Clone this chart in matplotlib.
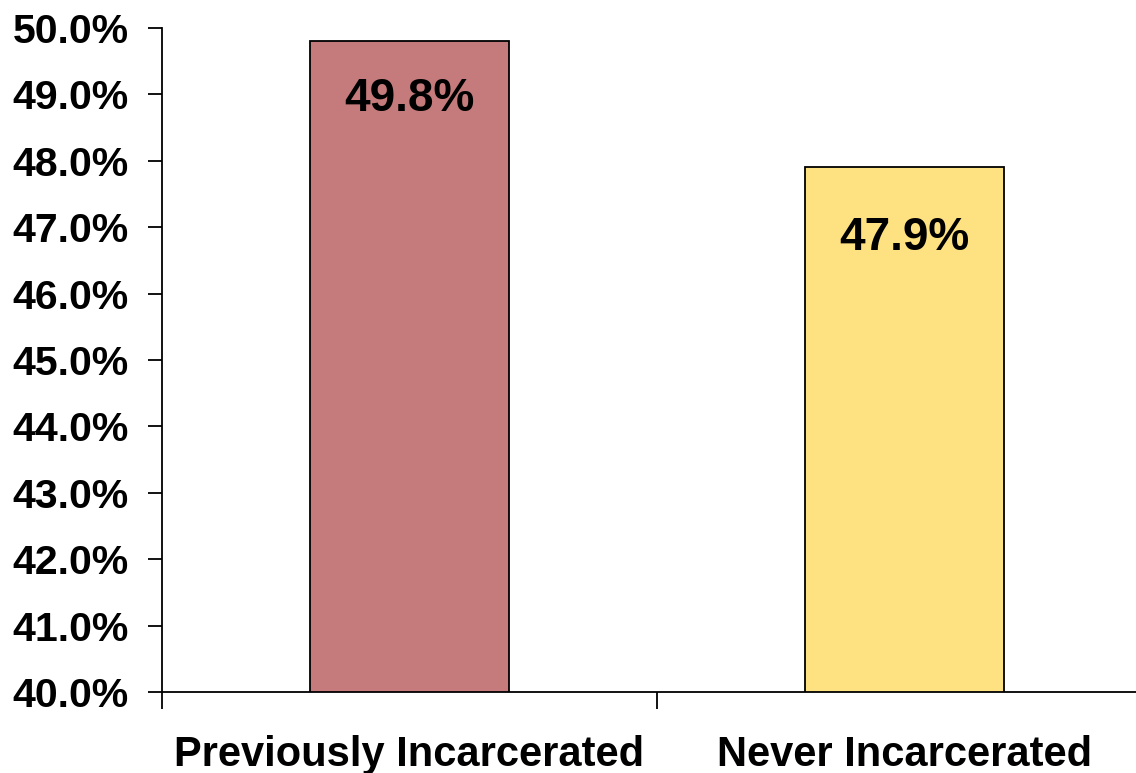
import matplotlib.pyplot as plt
from matplotlib.ticker import FixedLocator, FuncFormatter

categories = ["Previously Incarcerated", "Never Incarcerated"]
values = [49.8, 47.9]
bar_colors = ["#C57B7B", "#FEE180"]
label_offsets = [-58, -71]  # px below bar top for the value labels

plt.rcParams['font.family'] = ['Liberation Sans', 'DejaVu Sans']
plt.rcParams['font.weight'] = 'bold'

fig = plt.figure(figsize=(11.36, 7.73), dpi=100)
W, H = 1136, 773
left, right, top, bottom = 162, 1152, 28, 692
ax = fig.add_axes([left / W, 1 - bottom / H, (right - left) / W, (bottom - top) / H])

x = list(range(len(categories)))
bars = ax.bar(x, values, width=0.404, color=bar_colors, edgecolor="black", linewidth=1.3, zorder=2)

for xi, v, off in zip(x, values, label_offsets):
    ax.annotate(f"{v:.1f}%", (xi, v), xytext=(0, off * 0.72), textcoords="offset points",
                ha="center", va="center", fontsize=33, fontweight="bold")

ax.set_ylim(40, 50)
ax.set_xlim(-0.5, 1.5)
ax.yaxis.set_major_locator(FixedLocator([40 + i for i in range(11)]))
ax.yaxis.set_major_formatter(FuncFormatter(lambda v, p: f"{v:.1f}%"))
ax.tick_params(axis="y", direction="out", length=10, width=1.3, pad=14, labelsize=29.5)

ax.set_xticks(x)
ax.set_xticklabels(categories)
ax.tick_params(axis="x", which="major", length=0, pad=31, labelsize=30)
ax.set_xticks([-0.5, 0.5, 1.5], minor=True)
ax.tick_params(axis="x", which="minor", direction="out", length=12, width=1.3)

for s in ["top", "right"]:
    ax.spines[s].set_visible(False)
for s in ["left", "bottom"]:
    ax.spines[s].set_linewidth(1.3)

fig.savefig("out.png", dpi=100)
